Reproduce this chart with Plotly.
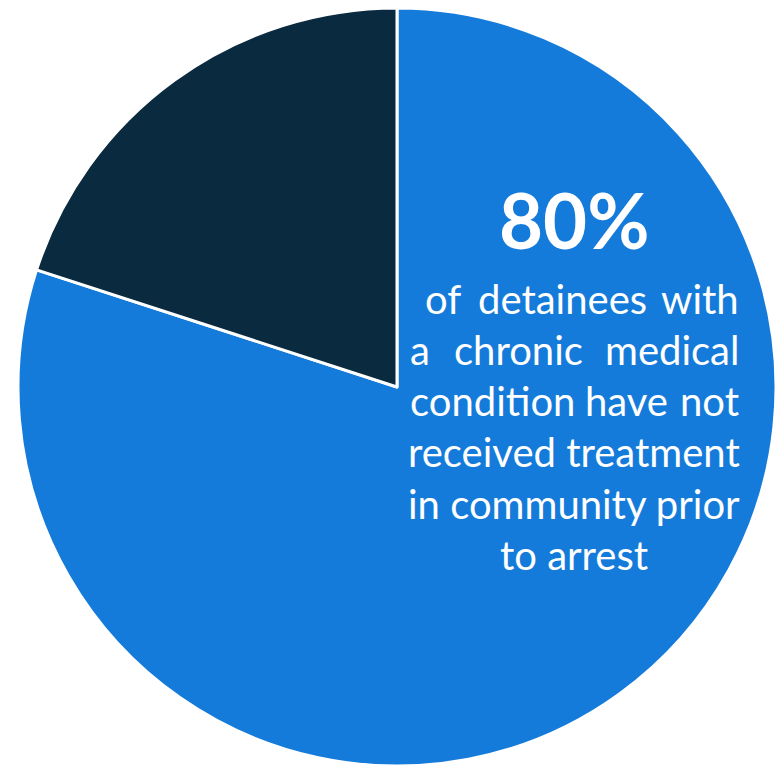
import plotly.graph_objects as go

W, H = 784, 766
OFF = 8  # page body margin offset in the browser

labels = ["Not treated in community", "Treated in community"]
values = [80, 20]
colors = ["#157BDB", "#0A2A40"]

headline = "80%"
# body lines; justified lines are split into words
body_lines = [
    ["of", "detainees", "with"],
    ["a", "chronic", "medical"],
    ["condition", "have", "not"],
    ["received treatment"],
    ["in community prior"],
    ["to arrest"],
]

FONT = "Lato"
BODY_SIZE = 40
LEFT, RIGHT, CENTER = 408, 741, 574
baselines = [315, 366, 417, 468, 520, 571]
middle_x = [562, 518, 626]
first_left = [423, 408, 408]

def px(x):
    return (x - OFF) / W

def py(y):
    return 1 - (y - OFF) / H

# pie centre (397, 387) radius 379 in screen px
cx, cy, r = 397, 387, 379
fig = go.Figure(go.Pie(
    labels=labels, values=values, sort=False, direction="clockwise", rotation=0,
    marker=dict(colors=colors, line=dict(color="white", width=3)),
    textinfo="none", hoverinfo="label+percent",
    domain=dict(x=[px(cx - r), px(cx + r)], y=[max(0, py(cy + r)), min(1, py(cy - r))]),
))

ann = []
ann.append(dict(text="<b>%s</b>" % headline, x=px(CENTER), y=py(250), xref="paper", yref="paper",
                xanchor="center", yanchor="bottom", showarrow=False,
                font=dict(family=FONT, size=76, color="white"), yshift=-17))
for i, words in enumerate(body_lines):
    yb = py(baselines[i])
    common = dict(xref="paper", yref="paper", yanchor="bottom", showarrow=False,
                  font=dict(family=FONT, size=BODY_SIZE, color="white"), yshift=-10)
    if len(words) == 3:
        ann.append(dict(text=words[0], x=px(first_left[i]), y=yb, xanchor="left", **common))
        ann.append(dict(text=words[1], x=px(middle_x[i]), y=yb, xanchor="center", **common))
        ann.append(dict(text=words[2], x=px(RIGHT), y=yb, xanchor="right", **common))
    else:
        ann.append(dict(text=words[0], x=px(CENTER), y=yb, xanchor="center", **common))

fig.update_layout(
    width=W, height=H, margin=dict(l=0, r=0, t=0, b=0),
    paper_bgcolor="white", plot_bgcolor="white", showlegend=False,
    annotations=ann,
)
fig.write_html("out.html")
